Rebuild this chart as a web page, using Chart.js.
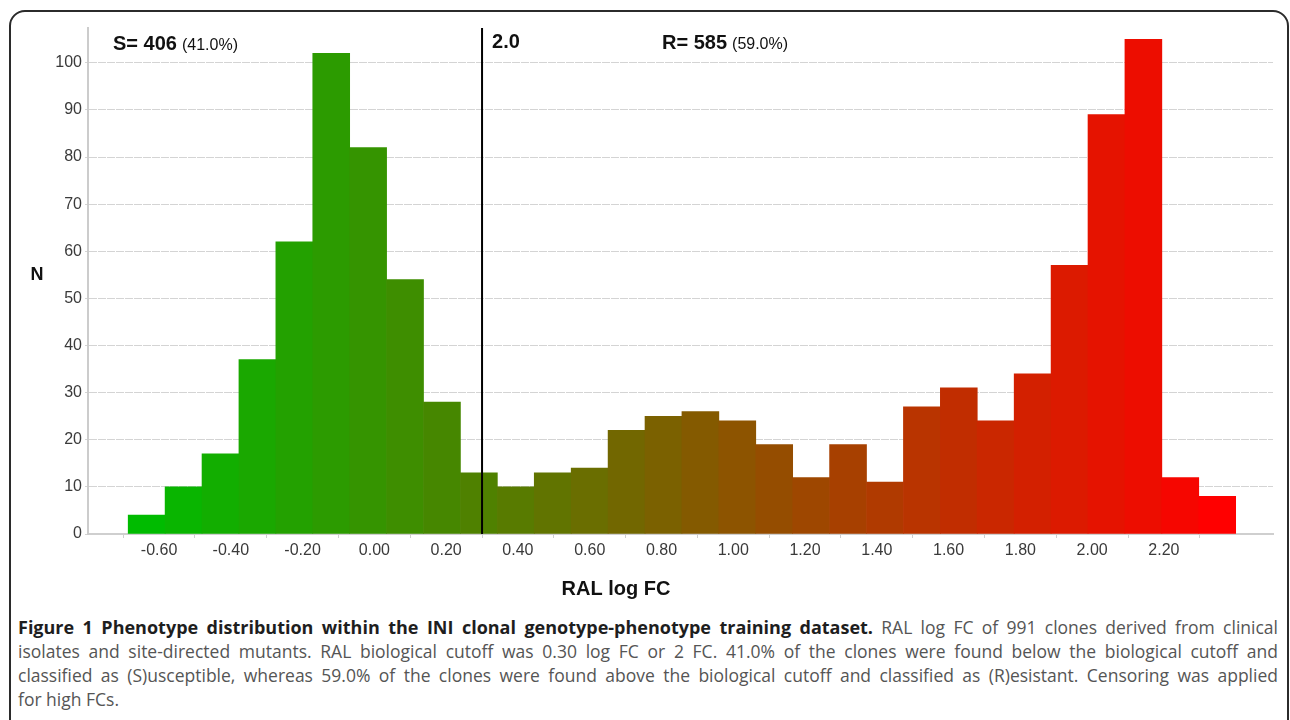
<!DOCTYPE html>
<html>
<head>
<meta charset="utf-8">
<title>Phenotype distribution – RAL log FC</title>
<script src="https://cdn.jsdelivr.net/npm/chart.js@4.4.1/dist/chart.umd.min.js"></script>
<style>
  html, body { margin: 0; padding: 0; background: #fff; width: 1290px; height: 720px; overflow: hidden; }
  #frame {
    position: absolute; left: 9px; top: 10px; width: 1280px; height: 800px;
    border: 2px solid #2b2b2b; border-radius: 16px; box-sizing: border-box;
  }
  #plot { position: absolute; left: 0; top: 0; width: 1290px; height: 600px; }
  #caption {
    position: absolute; left: 18px; top: 615px; width: 1260px;
    font-family: "Open Sans", sans-serif; font-size: 17.5px; color: #555;
  }
  #caption .ln { height: 24px; line-height: 24px; white-space: nowrap; text-align: justify; text-align-last: justify; }
  #caption .ln.last { text-align-last: left; }
  #caption b { color: #1e1e1e; font-weight: 700; font-size: 18px; }
</style>
</head>
<body>
<div id="frame"></div>
<div id="plot"><canvas id="chart" width="1290" height="600"></canvas></div>
<div id="caption">
  <div class="ln"><b>Figure 1 Phenotype distribution within the INI clonal genotype-phenotype training dataset.</b> RAL log FC of 991 clones derived from clinical</div>
  <div class="ln">isolates and site-directed mutants. RAL biological cutoff was 0.30 log FC or 2 FC. 41.0% of the clones were found below the biological cutoff and</div>
  <div class="ln">classified as (S)usceptible, whereas 59.0% of the clones were found above the biological cutoff and classified as (R)esistant. Censoring was applied</div>
  <div class="ln last">for high FCs.</div>
</div>
<script>
// Histogram of RAL log FC: 30 equal-width bins between the lowest value and the censoring limit
const binLow = -0.686;
const binHigh = 2.40;
const counts = [4, 10, 17, 37, 62, 102, 82, 54, 28, 13,
                10, 13, 14, 22, 25, 26, 24, 19, 12, 19,
                11, 27, 31, 24, 34, 57, 89, 105, 12, 8];

const xTickValues = [-0.6, -0.4, -0.2, 0, 0.2, 0.4, 0.6, 0.8, 1.0, 1.2, 1.4, 1.6, 1.8, 2.0, 2.2];
const yTickValues = [0, 10, 20, 30, 40, 50, 60, 70, 80, 90, 100];

// Biological cutoff: 2 FC = 0.30 log FC
const cutoffLogFC = 0.30;
const cutoffLabel = '2.0';
const susceptibleLabel = ['S= 406', '(41.0%)'];
const resistantLabel = ['R= 585', '(59.0%)'];
const yTitle = 'N';
const xTitle = 'RAL log FC';

const binWidth = (binHigh - binLow) / counts.length;
const binCenters = counts.map((_, i) => binLow + binWidth * (i + 0.5));

// bars shade from green (susceptible side) to red (resistant side)
const greenEnd = [0, 187, 0];
const redEnd = [255, 0, 0];
const barColors = counts.map((_, i) => {
  const t = i / (counts.length - 1);
  const c = greenEnd.map((g, k) => Math.round(g + (redEnd[k] - g) * t));
  return `rgb(${c[0]},${c[1]},${c[2]})`;
});

const tickFont = { family: '"Liberation Sans", Arial, sans-serif', size: 16 };
const tickColor = '#3a3a3a';

const annotations = {
  id: 'annotations',
  afterDatasetsDraw(chart) {
    const { ctx, chartArea, scales } = chart;
    const xCut = scales.x.getPixelForValue(cutoffLogFC);
    ctx.save();
    // cutoff line
    ctx.strokeStyle = '#000';
    ctx.lineWidth = 2;
    ctx.beginPath();
    ctx.moveTo(xCut, chartArea.top);
    ctx.lineTo(xCut, chartArea.bottom);
    ctx.stroke();

    ctx.fillStyle = '#111';
    ctx.textBaseline = 'alphabetic';
    ctx.textAlign = 'left';
    const bold = 'bold 20px "Liberation Sans", Arial, sans-serif';
    const plain = '16px "Liberation Sans", Arial, sans-serif';

    const pair = (parts, x, y) => {
      ctx.font = bold;
      ctx.fillText(parts[0], x, y);
      const w = ctx.measureText(parts[0]).width;
      ctx.font = plain;
      ctx.fillText(parts[1], x + w + 5, y);
    };
    pair(susceptibleLabel, 113, 50);
    pair(resistantLabel, 662, 49);

    ctx.font = bold;
    ctx.fillText(cutoffLabel, xCut + 10, 48);

    // axis titles
    ctx.textAlign = 'center';
    ctx.textBaseline = 'middle';
    ctx.font = 'bold 18px "Liberation Sans", Arial, sans-serif';
    ctx.fillText(yTitle, 37, 275);
    ctx.font = 'bold 20px "Liberation Sans", Arial, sans-serif';
    ctx.fillText(xTitle, 616, 589);
    ctx.restore();
  }
};

new Chart(document.getElementById('chart'), {
  type: 'bar',
  data: {
    datasets: [{
      data: binCenters.map((x, i) => ({ x, y: counts[i] })),
      backgroundColor: barColors,
      borderWidth: 0,
      barPercentage: 1,
      categoryPercentage: 1
    }]
  },
  options: {
    responsive: false,
    animation: false,
    events: [],
    layout: { padding: { top: 28, right: 17, left: 0, bottom: 0 } },
    plugins: { legend: { display: false }, tooltip: { enabled: false } },
    scales: {
      x: {
        type: 'linear',
        min: -0.798,
        max: 2.504,
        offset: false,
        grid: { display: true, drawOnChartArea: false, drawTicks: true, tickLength: 4, color: '#cfcfcf' },
        border: { display: true, color: '#cfcfcf', width: 2 },
        ticks: {
          font: tickFont, color: tickColor, padding: 3,
          autoSkip: false, maxRotation: 0, minRotation: 0,
          callback: v => Number(v).toFixed(2)
        },
        afterBuildTicks: s => { s.ticks = xTickValues.map(v => ({ value: v })); },
        afterFit: s => { s.height = 66; }
      },
      y: {
        type: 'linear',
        min: 0,
        max: 107.4,
        grid: { color: '#d4d4d4', lineWidth: 1, drawTicks: true, tickLength: 3 },
        border: { display: true, color: '#cccccc', width: 2, dash: [8, 1] },
        ticks: { font: tickFont, color: tickColor, padding: 3, callback: v => String(v) },
        afterBuildTicks: s => { s.ticks = yTickValues.map(v => ({ value: v })); },
        afterFit: s => { s.width = 88; }
      }
    }
  },
  plugins: [annotations]
});
</script>
</body>
</html>
